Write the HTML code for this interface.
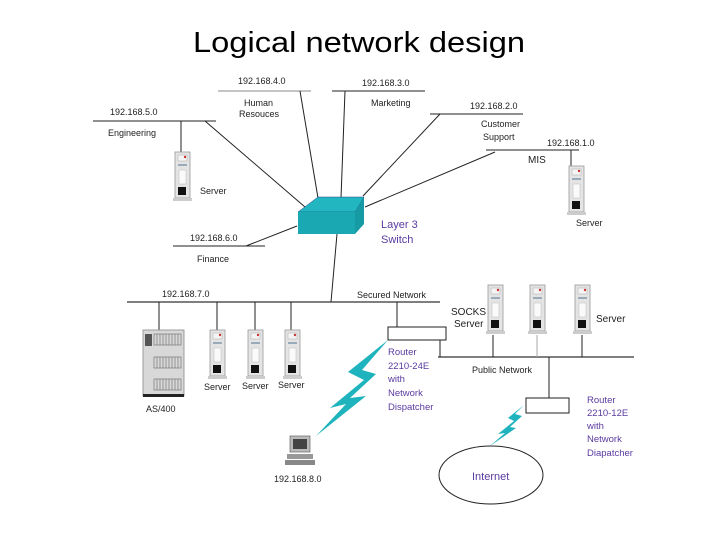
<!DOCTYPE html>
<html><head><meta charset="utf-8"><style>
html,body{margin:0;padding:0;background:#fff;}
svg{display:block;}
text{font-family:"Liberation Sans",sans-serif;}
</style></head><body>
<svg width="720" height="540" viewBox="0 0 720 540" xmlns="http://www.w3.org/2000/svg">
<defs>
<g id="srv">
<rect x="0" y="0" width="15" height="46" fill="#e4e4e4" stroke="#999" stroke-width="0.8"/>
<rect x="-2" y="46" width="19" height="3" fill="#ccc"/>
<rect x="3" y="3" width="9" height="6" fill="#f4f4f4" stroke="#aaa" stroke-width="0.5"/>
<circle cx="10" cy="5" r="1.2" fill="#c33"/>
<rect x="3" y="12" width="9" height="2" fill="#9ab"/>
<rect x="4" y="18" width="7" height="14" fill="#fafafa" stroke="#bbb" stroke-width="0.5"/>
<rect x="3" y="35" width="8" height="8" fill="#111"/>
</g>
</defs>
<text x="193" y="52" font-size="29" textLength="332" lengthAdjust="spacingAndGlyphs" fill="#000">Logical network design</text>
<g stroke="#222" stroke-width="1" fill="none">
<line x1="93" y1="121" x2="216" y2="121"/>
<line x1="218" y1="91" x2="311" y2="91" stroke="#888"/>
<line x1="332" y1="91" x2="425" y2="91"/>
<line x1="430" y1="114" x2="523" y2="114"/>
<line x1="486" y1="150" x2="579" y2="150"/>
<line x1="173" y1="246" x2="265" y2="246"/>
<line x1="127" y1="302" x2="440" y2="302" stroke="#555" stroke-width="1.5"/>
<line x1="438" y1="357" x2="634" y2="357" stroke="#555" stroke-width="1.5"/>
<line x1="181" y1="121" x2="181" y2="152"/>
<line x1="571" y1="150" x2="571" y2="167"/>
<line x1="205" y1="121" x2="305" y2="207"/>
<line x1="300" y1="91" x2="318" y2="198"/>
<line x1="345" y1="91" x2="341" y2="198"/>
<line x1="440" y1="114" x2="363" y2="196"/>
<line x1="495" y1="152" x2="365" y2="207"/>
<line x1="246" y1="246" x2="297" y2="226"/>
<line x1="337" y1="234" x2="331" y2="302"/>
<line x1="159" y1="302" x2="159" y2="330"/>
<line x1="217" y1="302" x2="217" y2="330"/>
<line x1="255" y1="302" x2="255" y2="330"/>
<line x1="291" y1="302" x2="291" y2="330"/>
<line x1="397" y1="302" x2="397" y2="327"/>
<line x1="440" y1="340" x2="440" y2="357"/>
<line x1="493" y1="335" x2="493" y2="357"/>
<line x1="537" y1="335" x2="537" y2="357" stroke="#aaa"/>
<line x1="582" y1="335" x2="582" y2="357"/>
<line x1="549" y1="357" x2="549" y2="398"/>
</g>
<polygon points="298,212 318,197 364,197 355,212" fill="#22b7c0" stroke="#127" stroke-width="0.4"/>
<polygon points="355,212 364,197 364,224 355,234" fill="#169aa3"/>
<rect x="298" y="212" width="57" height="22" fill="#1aa9b3"/>
<text x="381" y="228" font-size="11" fill="#5a3aa0">Layer 3</text>
<text x="381" y="243" font-size="11" fill="#5a3aa0">Switch</text>
<g font-size="9" fill="#222">
<text x="110" y="115">192.168.5.0</text>
<text x="108" y="136">Engineering</text>
<text x="238" y="84">192.168.4.0</text>
<text x="244" y="106">Human</text>
<text x="239" y="117">Resouces</text>
<text x="362" y="86">192.168.3.0</text>
<text x="371" y="106">Marketing</text>
<text x="470" y="109">192.168.2.0</text>
<text x="481" y="127">Customer</text>
<text x="483" y="140">Support</text>
<text x="547" y="146">192.168.1.0</text>
<text x="528" y="163" font-size="10">MIS</text>
<text x="200" y="194">Server</text>
<text x="576" y="226">Server</text>
<text x="190" y="241">192.168.6.0</text>
<text x="197" y="262">Finance</text>
<text x="162" y="297">192.168.7.0</text>
<text x="357" y="298">Secured Network</text>
<text x="146" y="412">AS/400</text>
<text x="204" y="390">Server</text>
<text x="242" y="389">Server</text>
<text x="278" y="388">Server</text>
<text x="451" y="315" font-size="10">SOCKS</text>
<text x="454" y="327" font-size="10">Server</text>
<text x="596" y="322" font-size="10">Server</text>
<text x="472" y="373">Public Network</text>
<text x="274" y="482">192.168.8.0</text>
</g>
<g font-size="9.5" fill="#5a3aa0">
<text x="388" y="355">Router</text>
<text x="388" y="369">2210-24E</text>
<text x="388" y="382">with</text>
<text x="388" y="396">Network</text>
<text x="388" y="410">Dispatcher</text>
<text x="587" y="403">Router</text>
<text x="587" y="416">2210-12E</text>
<text x="587" y="429">with</text>
<text x="587" y="442">Network</text>
<text x="587" y="456">Diapatcher</text>
</g>
<use href="#srv" transform="translate(175,152)"/>
<use href="#srv" transform="translate(569,166)"/>
<use href="#srv" transform="translate(210,330)"/>
<use href="#srv" transform="translate(248,330)"/>
<use href="#srv" transform="translate(285,330)"/>
<use href="#srv" transform="translate(488,285)"/>
<use href="#srv" transform="translate(530,285)"/>
<use href="#srv" transform="translate(575,285)"/>
<rect x="143" y="330" width="41" height="66" fill="#d8d8d8" stroke="#888" stroke-width="0.8"/>
<rect x="143" y="394" width="41" height="3" fill="#222"/>
<rect x="145" y="334" width="7" height="12" fill="#555"/>
<g fill="none" stroke="#777" stroke-width="0.7">
<rect x="154" y="334" width="27" height="11"/><rect x="154" y="357" width="27" height="11"/><rect x="154" y="379" width="27" height="11"/>
<path d="M157 334v11M160 334v11M163 334v11M166 334v11M169 334v11M172 334v11M175 334v11M178 334v11M157 357v11M160 357v11M163 357v11M166 357v11M169 357v11M172 357v11M175 357v11M178 357v11M157 379v11M160 379v11M163 379v11M166 379v11M169 379v11M172 379v11M175 379v11M178 379v11"/>
</g>
<rect x="388" y="327" width="58" height="13" fill="#fff" stroke="#222"/>
<rect x="526" y="398" width="43" height="15" fill="#fff" stroke="#222"/>
<polygon points="388,340 348,372 364,380 330,408 346,404 316,436 366,396 350,398 376,374 362,370" fill="#1fb3bd"/>
<polygon points="524,405 508,418 514,421 498,434 505,433 490,446 516,428 510,427 522,416 515,414" fill="#1fb3bd"/>
<ellipse cx="491" cy="475" rx="52" ry="29" fill="#fff" stroke="#222"/>
<text x="472" y="480" font-size="11" fill="#5a3aa0">Internet</text>
<rect x="290" y="436" width="20" height="16" fill="#bbb" stroke="#666" stroke-width="0.7"/>
<rect x="293" y="439" width="14" height="10" fill="#444"/>
<rect x="287" y="454" width="26" height="5" fill="#999"/>
<rect x="285" y="460" width="30" height="5" fill="#888"/>
</svg>
</body></html>
